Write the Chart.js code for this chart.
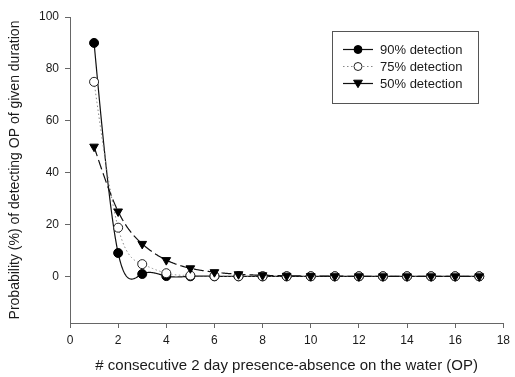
<!DOCTYPE html>
<html><head><meta charset="utf-8">
<script src="https://cdn.jsdelivr.net/npm/chart.js@4/dist/chart.umd.min.js"></script>
<style>html,body{margin:0;padding:0;background:#fff}#wrap{width:515px;height:377px}</style>
</head><body><div id="wrap"><canvas id="c" width="515" height="377"></canvas></div>
<script>
// ---- data ----
const durations = [1,2,3,4,5,6,7,8,9,10,11,12,13,14,15,16,17];
const det90 = [90, 9, 0.9, 0.09, 0.01, 0, 0, 0, 0, 0, 0, 0, 0, 0, 0, 0, 0];
const det75 = [75, 18.75, 4.7, 1.2, 0.3, 0.07, 0.02, 0, 0, 0, 0, 0, 0, 0, 0, 0, 0];
const det50 = [50, 25, 12.5, 6.25, 3.1, 1.6, 0.8, 0.4, 0.2, 0.1, 0.05, 0.02, 0.01, 0, 0, 0, 0];
const seriesLabels = ['90% detection', '75% detection', '50% detection'];
const xTicks = [0, 2, 4, 6, 8, 10, 12, 14, 16, 18];
const yTicks = [0, 20, 40, 60, 80, 100];
const xTitle = '# consecutive 2 day presence-absence on the water (OP)';
const yTitle = 'Probability (%) of detecting OP of given duration';

const FONT = '"Liberation Sans", Arial, sans-serif';
const INK = '#1a1a1a';
const AXIS = '#666';

function pts(ys) { return durations.map((x, i) => ({x: x, y: ys[i]})); }

// natural cubic spline (like SigmaPlot "spline curve")
function spline(xs, ys) {
  const n = xs.length, h = [], M = new Array(n).fill(0);
  for (let i = 0; i < n - 1; i++) h.push(xs[i + 1] - xs[i]);
  const rhs = new Array(n).fill(0);
  for (let i = 1; i < n - 1; i++) rhs[i] = 6 * ((ys[i + 1] - ys[i]) / h[i] - (ys[i] - ys[i - 1]) / h[i - 1]);
  const m = n - 2, cp = [], dp = [];
  for (let i = 0; i < m; i++) {
    const k = i + 1;
    const sub = i === 0 ? 0 : h[k - 1];
    const diag = 2 * (h[k - 1] + h[k]);
    const sup = i === m - 1 ? 0 : h[k];
    const den = diag - (i === 0 ? 0 : sub * cp[i - 1]);
    cp[i] = sup / den;
    dp[i] = (rhs[k] - (i === 0 ? 0 : sub * dp[i - 1])) / den;
  }
  for (let i = m - 1; i >= 0; i--) M[i + 1] = dp[i] - (i === m - 1 ? 0 : cp[i] * M[i + 2]);
  return function (x) {
    let i = 0;
    while (i < n - 2 && x > xs[i + 1]) i++;
    const hi = h[i], t1 = xs[i + 1] - x, t0 = x - xs[i];
    return M[i] * t1 * t1 * t1 / (6 * hi) + M[i + 1] * t0 * t0 * t0 / (6 * hi)
      + (ys[i] / hi - M[i] * hi / 6) * t1 + (ys[i + 1] / hi - M[i + 1] * hi / 6) * t0;
  };
}

const splinePlugin = {
  id: 'splineLines',
  beforeDatasetsDraw(chart) {
    const {ctx, chartArea, scales} = chart;
    ctx.save();
    ctx.beginPath();
    ctx.rect(chartArea.left, chartArea.top, chartArea.right - chartArea.left, chartArea.bottom - chartArea.top);
    ctx.clip();
    chart.data.datasets.forEach(ds => {
      const xs = ds.data.map(p => p.x), ys = ds.data.map(p => p.y);
      const f = spline(xs, ys);
      ctx.beginPath();
      const x0 = xs[0], x1 = xs[xs.length - 1];
      for (let s = 0; s <= 800; s++) {
        const xv = x0 + (x1 - x0) * s / 800;
        const px = scales.x.getPixelForValue(xv), py = scales.y.getPixelForValue(f(xv));
        if (s === 0) ctx.moveTo(px, py); else ctx.lineTo(px, py);
      }
      ctx.strokeStyle = ds.lineColor;
      ctx.lineWidth = ds.lineW;
      ctx.setLineDash(ds.dash);
      ctx.stroke();
    });
    ctx.restore();
  }
};

function drawMarker(ctx, ds, x, y, r) {
  ctx.save();
  ctx.setLineDash([]);
  ctx.fillStyle = ds.pointBackgroundColor;
  ctx.strokeStyle = ds.pointBorderColor;
  ctx.lineWidth = ds.pointBorderWidth;
  ctx.beginPath();
  if (ds.pointStyle === 'triangle') {
    const s = r * 1.1;
    ctx.moveTo(x - s, y - s * 0.75);
    ctx.lineTo(x + s, y - s * 0.75);
    ctx.lineTo(x, y + s * 0.95);
    ctx.closePath();
  } else {
    ctx.arc(x, y, r, 0, Math.PI * 2);
  }
  ctx.fill();
  ctx.stroke();
  ctx.restore();
}

const legendPlugin = {
  id: 'boxLegend',
  afterDraw(chart) {
    const ctx = chart.ctx;
    const bx = 332.5, by = 31.5, bw = 146, bh = 72;
    ctx.save();
    ctx.strokeStyle = '#555';
    ctx.lineWidth = 1;
    ctx.strokeRect(bx, by, bw, bh);
    ctx.font = '13px ' + FONT;
    ctx.fillStyle = INK;
    ctx.textBaseline = 'middle';
    chart.data.datasets.forEach((ds, i) => {
      const y = 49 + i * 17;
      ctx.beginPath();
      ctx.setLineDash(ds.legendDash);
      ctx.strokeStyle = ds.lineColor;
      ctx.lineWidth = ds.lineW;
      ctx.moveTo(343, y + 0.5);
      ctx.lineTo(373, y + 0.5);
      ctx.stroke();
      ctx.setLineDash([]);
      drawMarker(ctx, ds, 358, y + 0.5, 4);
      ctx.fillStyle = INK;
      ctx.fillText(ds.label, 380, y + 1);
    });
    ctx.restore();
  }
};

const chart = new Chart(document.getElementById('c'), {
  type: 'scatter',
  data: {
    datasets: [
      {label: seriesLabels[0], data: pts(det90), order: 2, showLine: false, pointStyle: 'circle', pointRadius: 4.5,
       pointBackgroundColor: '#000', pointBorderColor: '#000', pointBorderWidth: 1,
       lineColor: '#111', lineW: 1.2, dash: [], legendDash: []},
      {label: seriesLabels[1], data: pts(det75), order: 1, showLine: false, pointStyle: 'circle', pointRadius: 4.5,
       pointBackgroundColor: '#fff', pointBorderColor: '#222', pointBorderWidth: 1,
       lineColor: '#888', lineW: 1, dash: [1.5, 2.5], legendDash: [1.5, 2.5]},
      {label: seriesLabels[2], data: pts(det50), order: 0, showLine: false, pointStyle: 'triangle', rotation: 180, pointRadius: 5,
       pointBackgroundColor: '#000', pointBorderColor: '#000', pointBorderWidth: 1,
       lineColor: '#111', lineW: 1.2, dash: [10, 4], legendDash: []}
    ]
  },
  options: {
    responsive: false,
    animation: false,
    devicePixelRatio: 1,
    layout: {padding: {top: 17, right: 8, left: 0, bottom: 0}},
    plugins: {legend: {display: false}, tooltip: {enabled: false}},
    scales: {
      x: {
        type: 'linear', min: 0, max: 18,
        afterBuildTicks: s => { s.ticks = xTicks.map(v => ({value: v})); },
        afterFit: s => { s.height = 54; },
        grid: {drawOnChartArea: false, tickLength: 5, color: AXIS, lineWidth: 1},
        border: {display: true, color: AXIS, width: 1},
        ticks: {color: INK, font: {family: FONT, size: 12}, padding: 5, maxRotation: 0},
        title: {display: true, text: xTitle, color: INK, font: {family: FONT, size: 15}, padding: {top: 0, bottom: 2}}
      },
      y: {
        type: 'linear', min: -18, max: 100,
        afterBuildTicks: s => { s.ticks = yTicks.map(v => ({value: v})); },
        afterFit: s => { s.width = 70; },
        grid: {drawOnChartArea: false, tickLength: 5, color: AXIS, lineWidth: 1},
        border: {display: true, color: AXIS, width: 1},
        ticks: {color: INK, font: {family: FONT, size: 12}, padding: 6},
        title: {display: true, text: yTitle, color: INK, font: {family: FONT, size: 14}, padding: {top: 7, bottom: 0}}
      }
    }
  },
  plugins: [splinePlugin, legendPlugin]
});
</script>
</body></html>
